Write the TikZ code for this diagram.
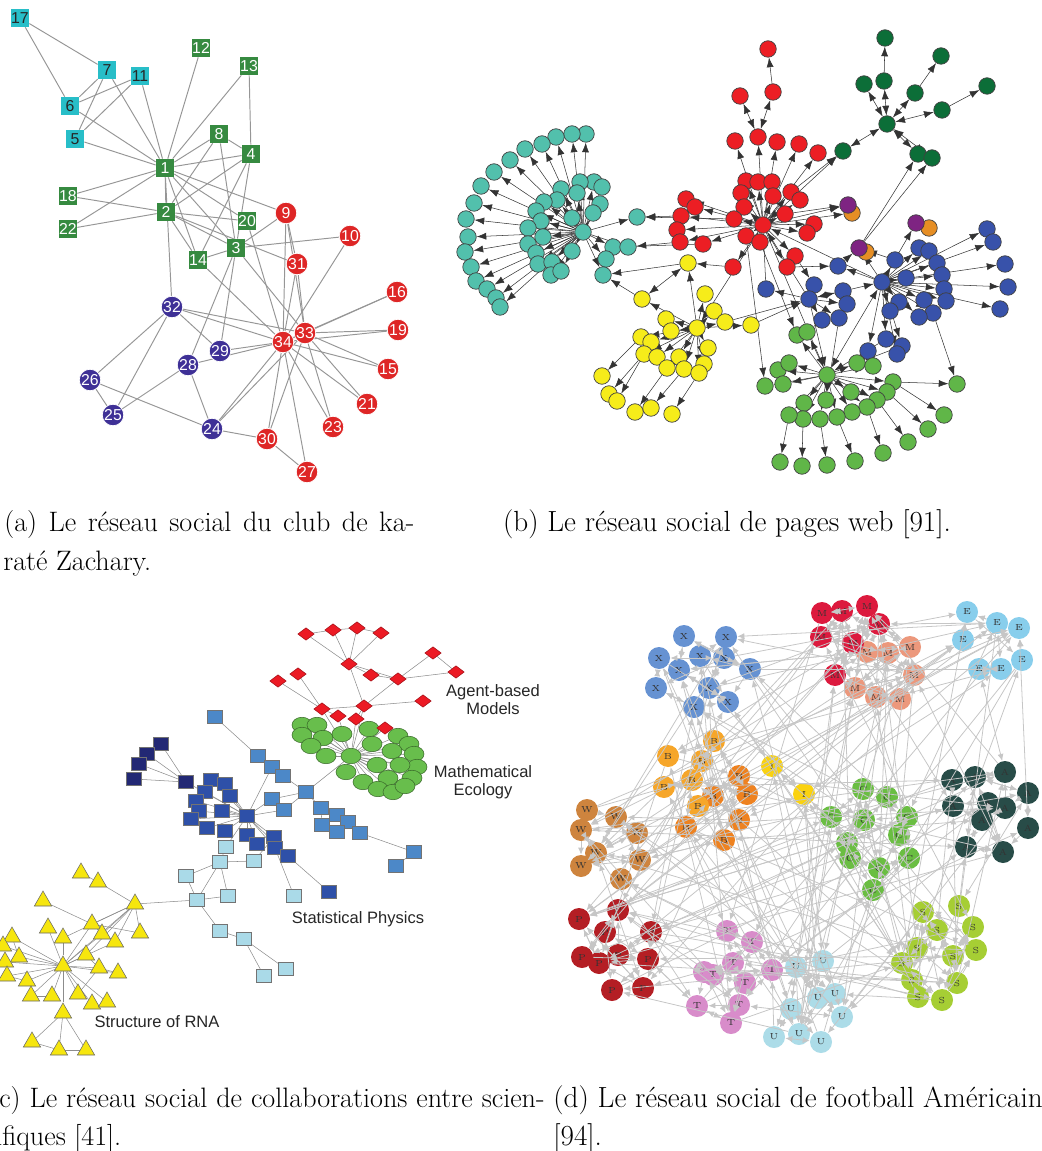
\documentclass[tikz,border=0pt]{standalone}
\usepackage{fontspec}
\newfontfamily\arialfont{Liberation Sans}
\usetikzlibrary{arrows.meta, shapes.geometric, backgrounds}
% (a) karate club
\definecolor{KarGreen}{RGB}{54,138,64}
\definecolor{KarCyan}{RGB}{40,190,200}
\definecolor{KarRed}{RGB}{222,38,38}
\definecolor{KarPurple}{RGB}{62,48,150}
\definecolor{KarEdge}{RGB}{150,150,150}
% (b) web pages
\definecolor{WebTeal}{RGB}{82,192,172}
\definecolor{WebRed}{RGB}{236,30,36}
\definecolor{WebYellow}{RGB}{246,236,26}
\definecolor{WebDkGreen}{RGB}{12,110,56}
\definecolor{WebBlue}{RGB}{56,82,170}
\definecolor{WebGreen}{RGB}{96,182,72}
\definecolor{WebPurple}{RGB}{126,36,130}
\definecolor{WebOrange}{RGB}{230,142,36}
% (c) collaborations
\definecolor{ColRed}{RGB}{236,26,36}
\definecolor{ColEco}{RGB}{104,190,76}
\definecolor{ColBlueA}{RGB}{76,136,200}
\definecolor{ColBlueB}{RGB}{46,80,168}
\definecolor{ColBlueC}{RGB}{34,40,116}
\definecolor{ColBlueD}{RGB}{170,218,232}
\definecolor{ColRNA}{RGB}{246,230,14}
% (d) football
\definecolor{FbX}{RGB}{102,146,210}
\definecolor{FbMa}{RGB}{220,26,62}
\definecolor{FbMb}{RGB}{236,152,124}
\definecolor{FbE}{RGB}{136,206,236}
\definecolor{FbB}{RGB}{246,166,42}
\definecolor{FbBb}{RGB}{238,130,32}
\definecolor{FbI}{RGB}{250,210,16}
\definecolor{FbW}{RGB}{206,132,62}
\definecolor{FbC}{RGB}{106,190,66}
\definecolor{FbA}{RGB}{40,76,72}
\definecolor{FbP}{RGB}{180,30,36}
\definecolor{FbT}{RGB}{216,140,202}
\definecolor{FbU}{RGB}{172,220,232}
\definecolor{FbS}{RGB}{166,206,52}
\definecolor{FbEdge}{RGB}{198,198,198}

\tikzset{
  kbox/.style={rectangle, minimum size=0.36cm, inner sep=0pt, text=white,
    font=\arialfont\fontsize{9}{9}\selectfont},
  kgreen/.style={kbox, fill=KarGreen},
  kcyan/.style={kbox, fill=KarCyan, text=black!85},
  kdot/.style={circle, minimum size=0.43cm, inner sep=0pt, draw=white,
    line width=0.4pt, text=white, font=\arialfont\fontsize{9}{9}\selectfont},
  kred/.style={kdot, fill=KarRed},
  kpurple/.style={kdot, fill=KarPurple},
  kedge/.style={draw=KarEdge, line width=0.55pt},
  webnode/.style={circle, draw=black!75, line width=0.4pt, minimum size=0.33cm, inner sep=0pt},
  webarr/.style={draw=black!80, line width=0.3pt, -{Latex[length=5.5pt,width=4pt]}},
  webboth/.style={draw=black!80, line width=0.3pt,
    {Latex[length=5.5pt,width=4pt]}-{Latex[length=5.5pt,width=4pt]}},
  colline/.style={draw=black!45, line width=0.3pt},
  colsq/.style={rectangle, draw=black!55, line width=0.3pt, minimum width=0.3cm,
    minimum height=0.26cm, inner sep=0pt},
  coldiam/.style={diamond, fill=ColRed, draw=ColRed!70!black, line width=0.3pt,
    minimum width=0.33cm, minimum height=0.25cm, inner sep=0pt},
  coleco/.style={ellipse, fill=ColEco, draw=ColEco!55!black, line width=0.3pt,
    minimum width=0.4cm, minimum height=0.31cm, inner sep=0pt},
  colrna/.style={regular polygon, regular polygon sides=3, fill=ColRNA, draw=black!60,
    line width=0.3pt, minimum size=0.4cm, inner sep=0pt},
  collabel/.style={font=\arialfont\fontsize{9.4}{10.3}\selectfont, align=center, text=black!85},
  fbnode/.style={circle, minimum size=0.44cm, inner sep=0pt,
    font=\fontsize{5}{5}\selectfont, text=black!80},
  fbarr/.style={draw=FbEdge, line width=0.45pt, -{Latex[length=4pt,width=3.4pt]}},
  fbboth/.style={draw=FbEdge, line width=0.45pt,
    {Latex[length=4pt,width=3.4pt]}-{Latex[length=4pt,width=3.4pt]}},
  capline/.style={inner sep=0pt, anchor=base west, font=\fontsize{16.6}{20}\selectfont},
  capwrap/.style={capline, font=\fontsize{16}{20}\selectfont},
}

\begin{document}
\begin{tikzpicture}[x=0.02cm, y=-0.02cm]
\useasboundingbox (0,0) rectangle (1041,1151);

% ---------------- (a) karate club ----------------
\foreach \n/\x/\y in {1/165/168, 2/166/212, 3/236/248, 4/251/154, 8/219/134, 12/201/48,
    13/249/66, 14/198/260, 18/68/196, 20/247/221, 22/68/229}
  \node[kgreen] (k\n) at (\x,\y) {\n};
\foreach \n/\x/\y in {5/75/139, 6/70/106, 7/107/70, 11/140/76, 17/20/18}
  \node[kcyan] (k\n) at (\x,\y) {\n};
\foreach \n/\x/\y in {9/286/213, 10/350/236, 31/297/264, 16/397/292, 19/398/330,
    34/283/342, 33/305/333, 15/388/369, 21/367/404, 23/333/427, 30/267/439, 27/307/472}
  \node[kred] (k\n) at (\x,\y) {\n};
\foreach \n/\x/\y in {32/172/307, 29/220/351, 28/188/365, 26/90/380, 25/113/415, 24/212/429}
  \node[kpurple] (k\n) at (\x,\y) {\n};
\begin{scope}[on background layer]
  \foreach \a/\b in {1/2,1/3,1/4,1/5,1/6,1/7,1/8,1/9,1/11,1/12,1/13,1/14,1/18,1/20,1/22,1/32,
      2/3,2/4,2/8,2/14,2/18,2/20,2/22,2/31,3/4,3/8,3/9,3/10,3/14,3/28,3/29,3/33,
      4/8,4/13,4/14,5/7,5/11,6/7,6/11,6/17,7/17,9/31,9/33,9/34,10/34,14/34,
      15/33,15/34,16/33,16/34,19/33,19/34,20/34,21/33,21/34,23/33,23/34,
      24/26,24/28,24/30,24/33,24/34,25/26,25/28,25/32,26/32,27/30,27/34,28/34,
      29/32,29/34,30/33,30/34,31/33,31/34,32/33,32/34,33/34}
    \draw[kedge] (k\a) -- (k\b);
\end{scope}

% ---------------- (b) web pages ----------------
\foreach \n/\x/\y in {1/586/134, 2/572/134, 3/556/137, 4/542/144, 5/525/149, 6/510/160,
    7/494/172, 8/481/186, 9/474/203, 10/466/219, 11/468/237, 12/465/252, 13/471/267,
    14/476/281, 15/487/289, 16/496/298, 17/500/307, 18/594/182, 19/602/187, 20/580/182,
    21/577/193, 22/561/189, 23/557/200, 24/544/202, 25/536/211, 26/541/221, 27/528/228,
    28/543/237, 29/528/244, 30/536/253, 31/538/264, 32/552/262, 33/572/218, 34/600/204,
    35/593/213, 36/572/251, 37/551/275, 38/561/271, 39/613/247, 40/628/247, 41/606/259,
    42/603/275, 43/637/217, 0/583/232}
  \node[webnode, fill=WebTeal] (wt\n) at (\x,\y) {};
\foreach \n/\x/\y in {1/768/49, 2/740/96, 3/773/92, 4/758/137, 5/735/141, 6/777/142,
    7/799/144, 8/818/153, 9/746/181, 10/758/182, 11/772/182, 12/741/193, 13/773/196,
    14/791/192, 15/800/200, 16/744/207, 17/734/219, 18/785/214, 19/814/224, 20/807/233,
    21/746/236, 22/760/242, 23/795/256, 24/787/267, 25/733/267, 26/686/199, 27/695/207,
    28/681/216, 29/677/230, 30/680/242, 31/703/244, 0/763/225}
  \node[webnode, fill=WebRed] (wr\n) at (\x,\y) {};
\foreach \n/\x/\y in {1/885/38, 2/884/81, 3/864/84, 4/915/93, 5/941/56, 6/942/110,
    7/987/86, 8/843/151, 9/918/154, 10/932/158, 0/887/124}
  \node[webnode, fill=WebDkGreen] (wg\n) at (\x,\y) {};
\foreach \n/\x/\y in {1/852/213, 2/929/228, 3/866/252}
  \node[webnode, fill=WebOrange] (wo\n) at (\x,\y) {};
\foreach \n/\x/\y in {1/848/205, 2/916/223, 3/859/248}
  \node[webnode, fill=WebPurple] (wp\n) at (\x,\y) {};
\foreach \n/\x/\y in {1/987/229, 2/993/242, 3/919/248, 4/929/251, 5/937/263, 6/1005/264,
    7/895/260, 8/838/266, 9/1008/287, 10/1000/309, 11/942/275, 12/944/289, 13/946/301,
    14/924/300, 15/933/313, 16/919/317, 17/899/302, 18/890/311, 19/906/278, 20/843/291,
    21/847/304, 22/839/318, 23/822/320, 24/814/285, 25/766/289, 26/886/339, 27/902/346,
    28/897/354, 29/868/351, 30/809/299, 0/882/282}
  \node[webnode, fill=WebBlue] (wb\n) at (\x,\y) {};
\foreach \n/\x/\y in {1/797/335, 2/807/332, 3/778/370, 4/789/363, 5/765/386, 6/783/384,
    7/857/363, 8/873/366, 9/893/382, 10/887/392, 11/877/400, 12/867/407, 13/851/392,
    14/852/412, 15/837/417, 16/826/400, 17/820/419, 18/804/403, 19/803/419, 20/789/415,
    21/957/384, 22/944/415, 23/928/429, 24/908/442, 25/883/453, 26/855/461, 27/827/465,
    28/802/466, 29/780/462, 0/827/375}
  \node[webnode, fill=WebGreen] (wl\n) at (\x,\y) {};
\foreach \n/\x/\y in {1/688/263, 2/642/299, 3/705/294, 4/714/311, 5/725/322, 6/751/325,
    7/666/319, 8/671/331, 9/641/337, 10/651/342, 11/708/348, 12/644/354, 13/657/357,
    14/679/357, 15/667/368, 16/684/369, 17/704/364, 18/699/373, 19/602/376, 20/609/394,
    21/617/401, 22/635/412, 23/651/408, 24/672/414, 0/697/328}
  \node[webnode, fill=WebYellow] (wy\n) at (\x,\y) {};
\begin{scope}[on background layer]
  \foreach \i in {1,...,43} \draw[webarr] (wt0) -- (wt\i);
  \foreach \i in {4,...,31} \draw[webarr] (wr0) -- (wr\i);
  \foreach \a/\b in {wr4/wr2, wr4/wr3, wr0/wg8, wg0/wg2, wg0/wg3, wg0/wg4, wg0/wg6,
      wg0/wg8, wg0/wg9, wg0/wg10, wb0/wb30, wr0/wy0, wy1/wy2, wb0/wl0}
    \draw[webboth] (\a) -- (\b);
  \foreach \a/\b in {wr3/wr1, wg2/wg1, wg4/wg5, wg6/wg7, wp3/wg9, wp3/wg10, wr28/wt43,
      wr30/wt40, wr31/wt39, wr17/wt43, wy1/wt42, wy2/wt42, wr0/wp1, wr0/wo1, wb0/wp2,
      wb0/wp3, wb7/wp3, wb8/wp3, wr14/wg8, wr18/wp1, wb15/wl21, wb30/wl0, wb26/wl0,
      wr0/wl0, wb30/wr0, wb0/wr0, wb25/wr0, wy6/wb30, wy5/wb30, wr25/wy1, wb22/wl16,
      wb23/wl2, wr24/wb8, wr23/wb24, wb27/wl7, wb29/wl8, wr22/wl1, wr21/wl5}
    \draw[webarr] (\a) -- (\b);
  \foreach \i in {1,...,19,26,27,28,29} \draw[webarr] (wb0) -- (wb\i);
  \foreach \i in {20,...,25} \draw[webarr] (wb30) -- (wb\i);
  \foreach \i in {1,...,20} \draw[webarr] (wl0) -- (wl\i);
  \foreach \a/\b in {20/29, 19/28, 17/27, 15/26, 12/25, 11/24, 10/23, 9/22, 9/21}
    \draw[webarr] (wl\a) -- (wl\b);
  \foreach \i in {1,...,18} \draw[webarr] (wy0) -- (wy\i);
  \foreach \a/\b in {9/19, 12/20, 12/21, 15/22, 16/23, 18/24}
    \draw[webarr] (wy\a) -- (wy\b);
\end{scope}

% ---------------- (c) collaborations ----------------
\foreach \n/\x/\y in {1/302/725, 2/317/725, 3/302/735, 4/323/738, 5/342/734, 6/311/746,
    7/326/756, 8/369/729, 9/372/744, 10/398/736, 11/409/744, 12/392/751, 13/414/754,
    14/417/767, 15/400/765, 16/377/765, 17/346/772, 18/363/782, 19/388/778, 20/412/778,
    21/378/789, 22/393/792, 23/405/786, 0/351/756}
  \node[coleco] (el\n) at (\x,\y) {};
\foreach \n/\x/\y in {1/306/634, 2/333/630, 3/357/628, 4/381/633, 5/349/664, 6/371/675,
    7/398/679, 8/433/653, 9/456/672, 10/278/681, 11/298/674, 12/423/701, 13/322/709,
    14/364/706, 15/338/716, 16/356/719, 17/385/728}
  \node[coldiam] (dm\n) at (\x,\y) {};
\foreach \n/\x/\y in {1/215/717, 2/258/756, 3/272/767, 4/283/776, 5/306/792, 6/272/799,
    7/284/810, 8/321/808, 9/337/815, 10/348/822, 11/322/825, 12/337/832, 13/360/833,
    14/414/852, 15/396/866}
  \node[colsq, fill=ColBlueA] (sa\n) at (\x,\y) {};
\foreach \n/\x/\y in {1/161/744, 2/147/754, 3/139/764, 4/134/779, 5/186/782}
  \node[colsq, fill=ColBlueC] (sn\n) at (\x,\y) {};
\foreach \n/\x/\y in {1/211/780, 2/225/784, 3/205/792, 4/230/796, 5/196/801, 6/199/811,
    7/222/811, 8/191/819, 9/207/828, 10/225/831, 11/247/835, 12/257/844, 13/274/837,
    14/275/848, 15/288/856, 16/329/892, 0/247/816}
  \node[colsq, fill=ColBlueB] (sb\n) at (\x,\y) {};
\foreach \n/\x/\y in {1/226/847, 2/220/862, 3/254/861, 4/186/876, 5/228/896, 6/197/900,
    7/220/931, 8/244/939, 9/286/969, 10/264/976, 11/294/896}
  \node[colsq, fill=ColBlueD] (sl\n) at (\x,\y) {};
\foreach \n/\x/\y in {1/81/873, 2/98/882, 3/43/901, 4/135/904, 5/48/928, 6/92/924,
    7/102/934, 8/140/933, 9/63/938, 10/115/942, 11/12/937, 12/3/946, 13/19/957, 14/86/955,
    15/5/962, 16/99/968, 17/118/973, 18/7/976, 19/27/981, 20/31/996, 21/52/996, 22/78/994,
    23/92/1004, 24/107/1002, 25/63/1013, 26/32/1042, 27/59/1050, 28/86/1050, 0/63/966}
  \node[colrna] (tr\n) at (\x,\y) {};
\begin{scope}[on background layer]
  \foreach \i in {1,...,23} \draw[colline] (el0) -- (el\i);
  \foreach \a/\b in {dm1/dm5, dm2/dm5, dm3/dm5, dm4/dm5, dm1/dm2, dm2/dm3, dm3/dm4,
      dm5/dm6, dm5/dm7, dm6/dm7, dm7/dm8, dm8/dm9, dm7/dm9, dm5/dm14, dm7/dm14,
      dm10/dm13, dm11/dm13, dm13/dm14, dm14/dm12, dm13/dm15, dm14/dm16,
      dm13/el0, dm14/el0, dm15/el0, dm16/el0, dm17/el0, el0/sa5,
      sa1/sa2, sa2/sa3, sa3/sa4, sa4/sa5, sa5/sa6, sa5/sa7, sa5/sa8, sa8/sa9, sa9/sa10,
      sa10/sa13, sa13/sa14, sa14/sa15, sa8/sa11, sa11/sa12, sa12/sa10, sa6/sa7,
      sa6/sb0, sa7/sb0, sa3/sb0, sn5/sb0, sn5/sn1, sn5/sn2, sn5/sn3, sn5/sn4, sn1/sn2,
      sb15/sb16, sb14/sl11, sb0/sl1, sl1/sl2, sl2/sl3, sl2/sl4, sl2/sl6, sl2/sl5,
      sl4/sl6, sl6/sl5, sl6/sl7, sl7/sl8, sl8/sl9, sl8/sl10, sl3/sb13, sl6/tr4,
      tr1/tr2, tr2/tr4, tr3/tr6, tr4/tr6, tr4/tr7, tr4/tr8, tr4/tr0, tr4/tr14,
      tr4/tr10, tr4/tr9, tr6/tr8, tr6/tr7, tr7/tr10, tr11/tr13, tr18/tr19, tr20/tr21,
      tr16/tr17, tr16/tr22, tr25/tr26, tr25/tr27, tr25/tr28, tr26/tr27, tr27/tr28,
      tr14/tr16}
    \draw[colline] (\a) -- (\b);
  \foreach \i in {1,...,15} \draw[colline] (sb0) -- (sb\i);
  \foreach \i in {5,6,7,9,10,11,12,13,14,15,16,17,18,19,20,21,22,23,24,25}
    \draw[colline] (tr0) -- (tr\i);
\end{scope}
\node[collabel] (lagent) at (493,700) {Agent-based\\Models};
\node[collabel] (lecol) at (483,782) {Mathematical\\Ecology};
\node[collabel] (lstat) at (358,919) {Statistical Physics};
\node[collabel] (lrna) at (157,1022) {Structure of RNA};

% ---------------- (d) american football ----------------
\foreach \n/\x/\y/\c/\t in {1/684/636/X/X, 2/726/637/X/X, 3/659/658/X/X, 4/700/656/X/X,
    5/724/658/X/X, 6/679/670/X/X, 7/750/669/X/X, 8/656/688/X/X, 9/709/688/X/X,
    10/728/702/X/X, 11/694/707/X/X,
    12/822/613/Ma/M, 13/842/611/Ma/M, 14/867/606/Ma/M, 15/879/624/Ma/M, 16/821/637/Ma/M,
    19/867/652/Mb/M, 20/888/653/Mb/M, 21/910/647/Mb/M, 22/914/675/Mb/M, 23/855/688/Mb/M,
    24/876/697/Mb/M, 25/900/699/Mb/M, 17/853/643/Ma/M, 18/835/675/Ma/M,
    26/967/612/E/E, 27/997/623/E/E, 28/1019/628/E/E, 29/963/640/E/E, 30/979/669/E/E,
    31/1001/669/E/E, 32/1022/660/E/E,
    33/714/741/B/B, 34/668/756/B/B, 35/702/761/B/B, 36/739/776/Bb/B, 37/692/780/B/B,
    38/664/787/B/B, 39/747/794/Bb/B, 40/713/796/Bb/B, 41/698/806/B/B, 42/739/820/Bb/B,
    43/686/827/Bb/B, 44/724/840/Bb/B,
    45/772/766/I/I, 46/804/794/I/I,
    47/587/810/W/W, 48/616/817/W/W, 49/581/830/W/W, 50/637/833/W/W, 51/596/853/W/W,
    52/581/866/W/W, 53/640/860/W/W, 54/621/879/W/W,
    55/863/789/C/C, 56/887/797/C/C, 57/831/817/C/C, 58/864/820/C/C, 59/907/817/C/C,
    60/847/843/C/C, 61/850/858/C/C, 62/909/858/C/C, 63/879/868/C/C, 64/873/890/C/C,
    65/899/835/C/C,
    66/952/780/A/A, 67/975/777/A/A, 68/1005/772/A/A, 69/1028/793/A/A, 70/953/806/A/A,
    71/988/803/A/A, 72/1005/808/A/A, 73/982/820/A/A, 74/1028/828/A/A, 75/966/847/A/A,
    76/1003/852/A/A,
    77/579/919/P/P, 78/618/910/P/P, 79/605/932/P/P, 80/651/932/P/P, 81/582/957/P/P,
    82/599/963/P/P, 83/618/955/P/P, 84/648/959/P/P, 85/612/990/P/P, 86/643/988/P/P,
    87/727/931/T/T, 88/752/942/T/T, 89/704/972/T/T, 90/733/963/T/T, 91/713/975/T/T,
    92/745/983/T/T, 93/772/970/T/T, 94/697/1006/T/T, 95/739/1005/T/T, 96/731/1023/T/T,
    97/796/967/U/U, 98/823/961/U/U, 99/818/998/U/U, 100/835/994/U/U, 101/791/1009/U/U,
    102/842/1017/U/U, 103/774/1037/U/U, 104/799/1034/U/U, 105/821/1042/U/U,
    106/923/912/S/S, 107/959/906/S/S, 108/937/930/S/S, 109/973/927/S/S, 110/917/948/S/S,
    111/953/956/S/S, 112/976/950/S/S, 113/902/963/S/S, 114/912/980/S/S, 115/957/983/S/S,
    116/918/997/S/S, 117/942/1000/S/S}
  \node[fbnode, fill=Fb\c] (f\n) at (\x,\y) {\t};
% links inside each conference, then between conferences
\pgfmathsetseed{4711}
\foreach \lo/\hi in {1/11, 12/18, 19/25, 12/25, 26/32, 33/44, 45/46, 47/54, 55/65,
    66/76, 77/86, 87/96, 97/105, 106/117} {
  \foreach \i in {\lo,...,\hi} {
    \foreach \k in {1,2} {
      \pgfmathtruncatemacro\j{random(\lo,\hi)}
      \ifnum\i=\j\else
        \ifodd\j \draw[fbboth] (f\i) -- (f\j); \else \draw[fbarr] (f\i) -- (f\j); \fi
      \fi
    }
  }
}
\foreach \k in {1,...,200} {
  \pgfmathtruncatemacro\i{random(1,117)}
  \pgfmathtruncatemacro\j{random(1,117)}
  \ifnum\i=\j\else
    \ifodd\k \draw[fbboth] (f\i) -- (f\j); \else \draw[fbarr] (f\i) -- (f\j); \fi
  \fi
}

% ---------------- captions ----------------
\node[capwrap] (capa1) at (4,531) {\makebox[233.3pt][s]{(a) Le réseau social du club de ka-}};
\node[capwrap] (capa2) at (3,570) {raté Zachary.};
\node[capline, anchor=base] (capb) at (727,531) {(b) Le réseau social de pages web [91].};
\node[capwrap] (capc1) at (-11,1107) {\makebox[316pt][s]{(c) Le réseau social de collaborations entre scien-}};
\node[capwrap] (capc2) at (-15,1145) {tifiques [41].};
\node[capline] (capd1) at (553,1107) {(d) Le réseau social de football Américain};
\node[capline] (capd2) at (553,1145) {[94].};
\end{tikzpicture}
\end{document}
